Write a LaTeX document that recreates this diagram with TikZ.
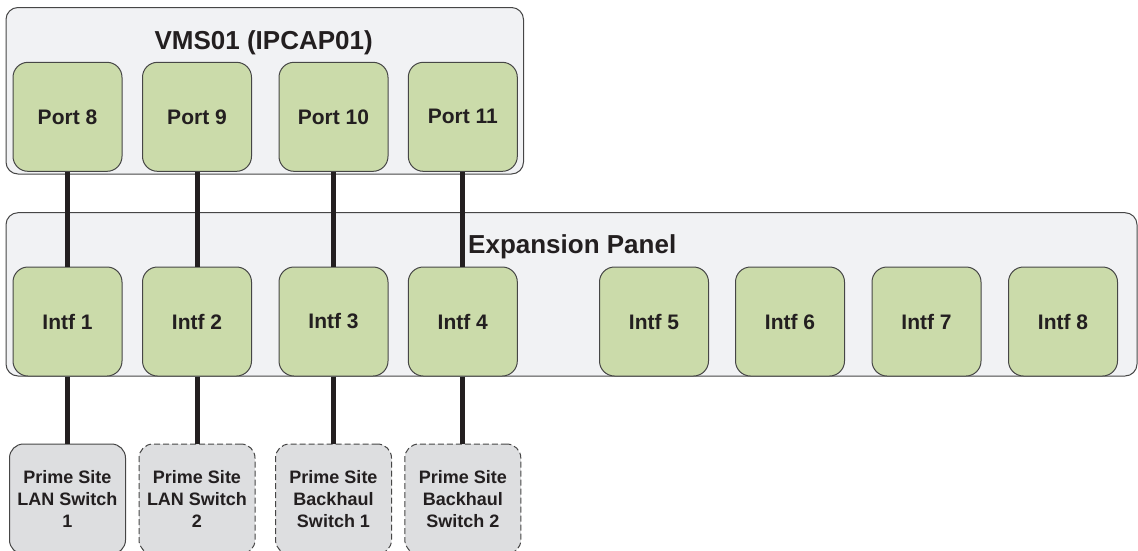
\documentclass[tikz,border=0pt]{standalone}
\usepackage{fontspec}
\setmainfont{Liberation Sans}
\usepackage{tikz}

\definecolor{boxgreen}{RGB}{203,219,170}
\definecolor{panelgrey}{RGB}{241,242,244}
\definecolor{swgrey}{RGB}{221,222,224}
\definecolor{edgegrey}{RGB}{70,70,70}
\definecolor{ink}{RGB}{35,31,32}

\tikzset{
	chassis/.style={draw=edgegrey, fill=panelgrey, line width=1pt, rounded corners=12pt},
	title/.style={font=\fontsize{26}{30}\selectfont\bfseries, text=ink, inner sep=0pt},
	portbox/.style={draw=edgegrey, fill=boxgreen, line width=1pt, rounded corners=15pt,
		minimum width=109pt, minimum height=109pt, inner sep=0pt,
		font=\fontsize{21}{25}\selectfont\bfseries, text=ink},
	swbox/.style={draw=edgegrey, fill=swgrey, line width=1pt, rounded corners=14pt,
		minimum width=116pt, minimum height=110pt, inner sep=0pt, align=center,
		font=\fontsize{18}{22}\selectfont\bfseries, text=ink},
	cable/.style={draw=ink, line width=5pt},
	gap/.style={dash pattern=on 6pt off 3pt}
}

\begin{document}
\begin{tikzpicture}[x=1pt, y=-1pt]
	\clip (0,0) rectangle (1138,550);

	% Serveur et panneau d'extension
	\node[chassis, minimum width=517.5pt, minimum height=166.5pt] (vms) at (264.75,90.75) {};
	\node[title, anchor=base] (vmstitle) at (263.7,49.7) {VMS01 (IPCAP01)};
	\node[chassis, minimum width=1131pt, minimum height=163.3pt] (panel) at (571.5,294.35) {};
	\node[title, anchor=base west] (paneltitle) at (468,253) {Expansion Panel};

	% Ports du serveur
	\foreach \n/\x in {8/67.5, 9/197, 10/333.5, 11/462.8} {
		\node[portbox] (port\n) at (\x,116.8) {Port \n};
	}

	% Interfaces du panneau
	\foreach \n/\x in {1/67.5, 2/197, 3/333.5, 4/462.8, 5/654, 6/790, 7/926.5, 8/1063} {
		\node[portbox] (intf\n) at (\x,321.5) {Intf \n};
	}

	% Commutateurs du site
	\foreach \n/\x/\txt/\lst in {1/67.5/{Prime Site\\LAN Switch\\1}/solid,
			2/197/{Prime Site\\LAN Switch\\2}/gap,
			3/333.5/{Prime Site\\Backhaul\\Switch 1}/gap,
			4/462.8/{Prime Site\\Backhaul\\Switch 2}/gap} {
		\node[swbox, \lst] (sw\n) at (\x,499) {\txt};
	}

	% Liaisons
	\foreach \p/\i in {8/1, 9/2, 10/3, 11/4} {
		\draw[cable] (port\p.south) -- (intf\i.north);
		\draw[cable] (intf\i.south) -- (sw\i.north);
	}
\end{tikzpicture}
\end{document}
